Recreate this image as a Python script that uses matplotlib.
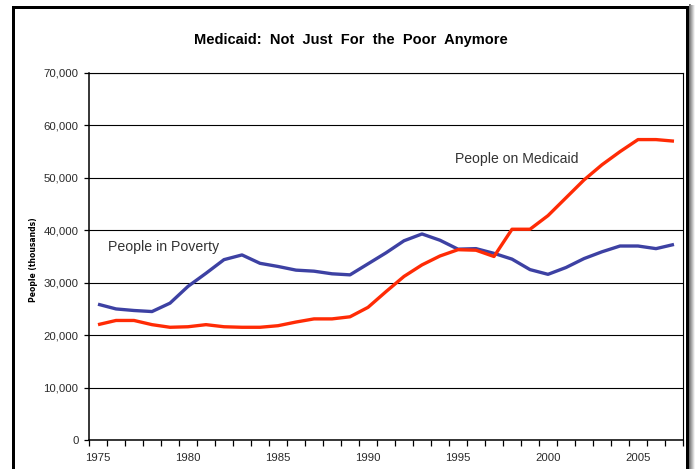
import matplotlib
matplotlib.use("Agg")
import matplotlib.pyplot as plt
from matplotlib.patches import Rectangle
import numpy as np

years = list(range(1975, 2008))
poverty = [25.9, 25.0, 24.7, 24.5, 26.1, 29.3, 31.8, 34.4, 35.3, 33.7, 33.1,
           32.4, 32.2, 31.7, 31.5, 33.6, 35.7, 38.0, 39.3, 38.1, 36.4, 36.5,
           35.6, 34.5, 32.5, 31.6, 32.9, 34.6, 35.9, 37.0, 37.0, 36.5, 37.3]
medicaid = [22.0, 22.8, 22.8, 22.0, 21.5, 21.6, 22.0, 21.6, 21.5, 21.5, 21.8,
            22.5, 23.1, 23.1, 23.5, 25.3, 28.3, 31.2, 33.4, 35.1, 36.3, 36.2,
            35.0, 40.2, 40.2, 42.8, 46.2, 49.6, 52.5, 55.0, 57.3, 57.3, 57.0]
poverty_k = [v * 1000 for v in poverty]
medicaid_k = [v * 1000 for v in medicaid]

y_ticks = list(range(0, 70001, 10000))
x_label_years = [1975, 1980, 1985, 1990, 1995, 2000, 2005]

title = "Medicaid:  Not  Just  For  the  Poor  Anymore"
poverty_label = "People in Poverty"
medicaid_label = "People on Medicaid"
y_axis_label = "People (thousands)"

W, H = 695, 469
fig = plt.figure(figsize=(W / 100, H / 100), dpi=100)
fig.patch.set_facecolor("white")

def fx(px):
    return px / W

def fy(py):
    return 1 - py / H

# frame with drop shadow around the chart
for i, a in enumerate(np.linspace(0.55, 0.05, 6)):
    fig.add_artist(Rectangle((fx(689 + i), 0), fx(1), fy(4 + i * 0.3),
                             transform=fig.transFigure, color="black",
                             alpha=a, lw=0, zorder=0))
fig.add_artist(Rectangle((fx(12), 0), fx(3.5), fy(6),
                         transform=fig.transFigure, color="black", lw=0, zorder=1))
fig.add_artist(Rectangle((fx(12), fy(9.5)), fx(677), 3.5 / H,
                         transform=fig.transFigure, color="black", lw=0, zorder=1))
fig.add_artist(Rectangle((fx(685.5), 0), fx(3.5), fy(6),
                         transform=fig.transFigure, color="black", lw=0, zorder=1))

left, right, top, bottom = 89, 683, 73, 440
ax = fig.add_axes([fx(left), fy(bottom), fx(right - left), (bottom - top) / H])
ax.set_zorder(2)
ax.set_facecolor("white")

ax.plot(years, poverty_k, color="#3D41A3", lw=2.4, solid_capstyle="butt", zorder=3)
ax.plot(years, medicaid_k, color="#FF2B05", lw=2.4, solid_capstyle="butt", zorder=4)

ax.set_xlim(years[0] - 0.5, years[-1] + 0.5)
ax.set_ylim(0, 70000)

ax.set_yticks(y_ticks)
ax.set_yticklabels([f"{v:,}" for v in y_ticks])
ax.yaxis.grid(True, color="black", lw=0.8)
ax.set_axisbelow(True)

ax.set_xticks(x_label_years)
ax.set_xticklabels([str(y) for y in x_label_years])
ax.set_xticks(np.arange(years[0] - 0.5, years[-1] + 0.51, 1), minor=True)
ax.tick_params(axis="x", which="major", length=0, pad=9, labelsize=8.2,
               labelcolor="#2a2a2a")
ax.tick_params(axis="x", which="minor", length=4, width=0.9, direction="out")
ax.tick_params(axis="y", which="major", length=3.5, width=0.9, direction="out",
               pad=4, labelsize=8.2, labelcolor="#2a2a2a")
for lab in ax.get_xticklabels() + ax.get_yticklabels():
    lab.set_family("Liberation Sans")

for side in ["left", "bottom"]:
    ax.spines[side].set_linewidth(1.1)
for side in ["top", "right"]:
    ax.spines[side].set_linewidth(0.8)

fig.text(fx(351), fy(40), title, ha="center", va="center",
         fontsize=10.5, fontweight="bold", family="Liberation Sans")
ax.text(1975.55, 36900, poverty_label, ha="left", va="center",
        fontsize=10.2, color="#333333", family="Liberation Sans")
ax.text(1994.85, 53600, medicaid_label, ha="left", va="center",
        fontsize=10.1, color="#333333", family="Liberation Sans")
fig.text(fx(33), fy(260), y_axis_label, rotation=90, ha="center", va="center",
         fontsize=5.5, fontweight="bold", family="Liberation Sans Narrow")

fig.savefig("out.png", dpi=100)
